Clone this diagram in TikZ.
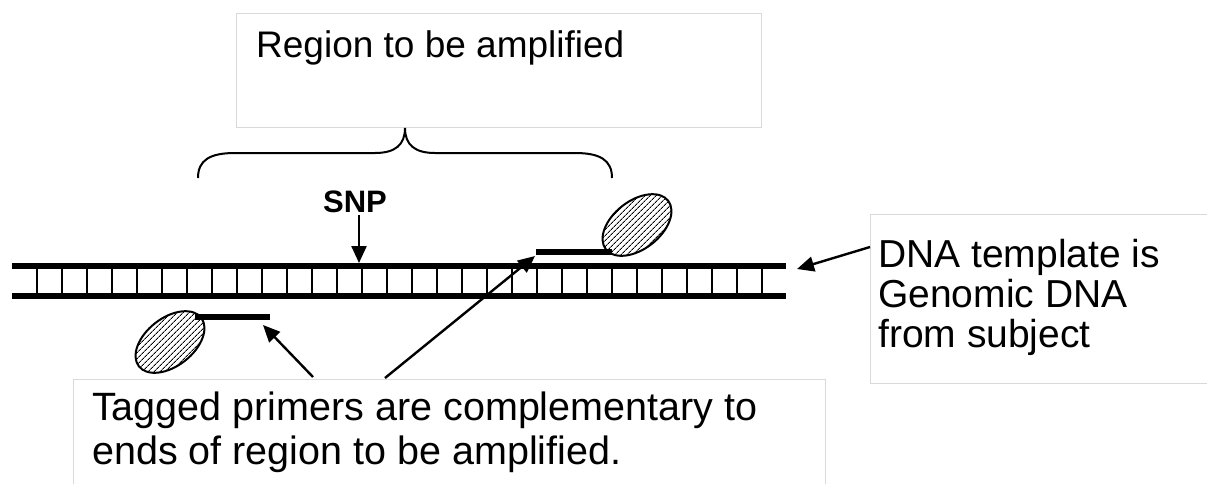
\documentclass[tikz,border=0pt]{standalone}
\usepackage{fontspec}
\setmainfont{Liberation Sans}
\usetikzlibrary{arrows.meta,shapes.geometric,patterns.meta}
\begin{document}
\begin{tikzpicture}[x=1pt,y=-1pt,
  boxline/.style={draw=black!15, line width=1pt, inner sep=0pt, anchor=north west},
  txt/.style={anchor=base west, inner sep=0pt, font=\fontsize{37}{41}\selectfont},
  bigtxt/.style={txt, font=\fontsize{39}{43}\selectfont},
  strand/.style={line width=6.5pt},
  rung/.style={line width=2.6pt},
  primer/.style={line width=6pt},
  tag/.style={ellipse, draw, line width=2pt, minimum width=79pt, minimum height=48pt, inner sep=0pt,
    pattern={Lines[angle=45,distance=4pt,line width=1pt]}},
  arr/.style={line width=2.4pt, -{Triangle[length=17pt,width=15pt]}},
  brace/.style={line width=2pt}
]
\useasboundingbox (0,0) rectangle (1207,483);
% text boxes
\node[boxline, minimum width=525pt, minimum height=114pt] (regbox) at (236,13) {};
\node[txt] (regtxt) at (256,57) {Region to be amplified};
\node[boxline, minimum width=345pt, minimum height=169pt] (dnabox) at (870,214) {};
\node[bigtxt] (dna1) at (878,267) {DNA template is};
\node[bigtxt] (dna2) at (878,307) {Genomic DNA};
\node[bigtxt] (dna3) at (878,347) {from subject};
\node[boxline, minimum width=752pt, minimum height=120pt] (tagbox) at (73,379) {};
\node[bigtxt, font=\fontsize{39.5}{43}\selectfont] (tag1) at (92,420) {Tagged primers are complementary to};
\node[bigtxt, font=\fontsize{39.5}{43}\selectfont] (tag2) at (92,464) {ends of region to be amplified.};
% brace
\draw[brace] (198,178) .. controls (198,160) and (210,153) .. (235,153) -- (375,153)
  .. controls (395,153) and (405,145) .. (405,128)
  .. controls (405,145) and (415,153) .. (435,153) -- (575,153)
  .. controls (600,153) and (612,160) .. (612,178);
% DNA
\coordinate (tl) at (12,266); \coordinate (tr) at (786,266);
\coordinate (bl) at (12,296); \coordinate (br) at (786,296);
\foreach \i in {0,...,29} {\draw[rung] (37+25*\i,268) -- (37+25*\i,293);}
\draw[strand] (tl) -- (tr);
\draw[strand] (bl) -- (br);
% primers
\coordinate (pl1) at (195,317); \coordinate (pl2) at (270,317);
\coordinate (pr1) at (536,252); \coordinate (pr2) at (612,252);
\draw[primer] (pl1) -- (pl2);
\draw[primer] (pr1) -- (pr2);
\node[tag, rotate=38] (tagL) at (170,342) {};
\node[tag, rotate=38] (tagR) at (637,225) {};
% SNP
\node[anchor=base, inner sep=0pt, font=\bfseries\fontsize{31}{33}\selectfont] (snp) at (355,212) {SNP};
\coordinate (snptip) at (359,263);
\draw[arr] (snptip |- 0,215) -- (snptip);
% arrows
\coordinate (dnatip) at (797,269);
\draw[arr] (dnabox.north west) ++(0,33) -- (dnatip);
\coordinate (ltip) at (263,325);
\coordinate (rtip) at (535,256);
\coordinate (lsrc) at (313,377);
\coordinate (rsrc) at (385,378);
\draw[arr] (lsrc) -- (ltip);
\draw[arr] (rsrc) -- (rtip);
\end{tikzpicture}
\end{document}
